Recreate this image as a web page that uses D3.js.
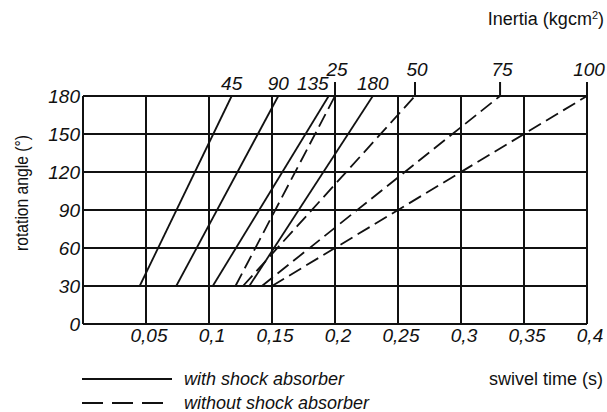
<!DOCTYPE html>
<html><head><meta charset="utf-8">
<script src="https://cdn.jsdelivr.net/npm/d3@7/dist/d3.min.js"></script>
<style>
body{margin:0;background:#fff;}
svg{display:block;}
text{fill:#111;}
.it{font-family:"Liberation Sans",Arial,sans-serif;font-style:italic;}
.rg{font-family:"Liberation Sans",Arial,sans-serif;}
</style></head>
<body>
<svg id="c" width="607" height="412"></svg>
<script>
// ---- data ----
const timeTicks = [0, 0.05, 0.1, 0.15, 0.2, 0.25, 0.3, 0.35, 0.4];
const timeTickLabels = ["", "0,05", "0,1", "0,15", "0,2", "0,25", "0,3", "0,35", "0,4"];
const angleTicks = [0, 30, 60, 90, 120, 150, 180];
const angleTickLabels = ["0", "30", "60", "90", "120", "150", "180"];
// with shock absorber (solid): inertia, swivel time at 30° and at 180°
const withInertia = [45, 90, 135, 180];
const withTime30 = [0.045, 0.074, 0.103, 0.132];
const withTime180 = [0.118, 0.155, 0.195, 0.23];
// without shock absorber (dashed)
const withoutInertia = [25, 50, 75, 100];
const withoutTime30 = [0.121, 0.127, 0.142, 0.15];
const withoutTime180 = [0.2, 0.2635, 0.331, 0.4];
const angleStart = 30, angleEnd = 180;

// ---- chart ----
const svg = d3.select("#c");
const x = d3.scaleLinear().domain([0, 0.4]).range([83, 587]);
const y = d3.scaleLinear().domain([0, 180]).range([324, 96]);
const ink = "#111";

// grid
const g = svg.append("g");
g.selectAll("line.v").data(timeTicks).join("line")
  .attr("class","v")
  .attr("x1", d => x(d)).attr("x2", d => x(d))
  .attr("y1", y(0)).attr("y2", y(180))
  .attr("stroke", ink).attr("stroke-width", 2);
g.selectAll("line.h").data(angleTicks).join("line")
  .attr("class","h")
  .attr("x1", x(0)).attr("x2", x(0.4))
  .attr("y1", d => y(d)).attr("y2", d => y(d))
  .attr("stroke", ink).attr("stroke-width", 2);

// y tick labels
svg.append("g").selectAll("text").data(angleTicks).join("text")
  .attr("class","it").attr("font-size", 19)
  .attr("x", 80).attr("y", d => y(d)).attr("dy", "0.36em")
  .attr("text-anchor", "end")
  .text((d,i) => angleTickLabels[i]);

// x tick labels
svg.append("g").selectAll("text").data(timeTicks).join("text")
  .attr("class","it").attr("font-size", 19)
  .attr("x", d => x(d) + 3).attr("y", 342)
  .attr("text-anchor", "middle")
  .text((d,i) => timeTickLabels[i]);

// solid lines
const lines = svg.append("g");
lines.selectAll("line.s").data(withInertia).join("line")
  .attr("class","s")
  .attr("x1", (d,i) => x(withTime30[i])).attr("y1", y(angleStart))
  .attr("x2", (d,i) => x(withTime180[i])).attr("y2", y(angleEnd))
  .attr("stroke", ink).attr("stroke-width", 1.8);
// dashed lines
lines.selectAll("line.d").data(withoutInertia).join("line")
  .attr("class","d")
  .attr("x1", (d,i) => x(withoutTime30[i])).attr("y1", y(angleStart))
  .attr("x2", (d,i) => x(withoutTime180[i])).attr("y2", y(angleEnd))
  .attr("stroke", ink).attr("stroke-width", 1.8)
  .attr("stroke-dasharray", "14,6");

// dashed inertia ticks + labels
svg.append("g").selectAll("line").data(withoutInertia).join("line")
  .attr("x1", (d,i) => x(withoutTime180[i])).attr("x2", (d,i) => x(withoutTime180[i]))
  .attr("y1", 82).attr("y2", y(180))
  .attr("stroke", ink).attr("stroke-width", 2);
svg.append("g").selectAll("text").data(withoutInertia).join("text")
  .attr("class","it").attr("font-size", 19)
  .attr("x", (d,i) => x(withoutTime180[i]) + 2).attr("y", 76)
  .attr("text-anchor", "middle").text(d => d);

// solid inertia labels
svg.append("g").selectAll("text").data(withInertia).join("text")
  .attr("class","it").attr("font-size", 19)
  .attr("x", (d,i) => x(withTime180[i]))
  .attr("y", 90)
  .attr("text-anchor", (d,i) => {
    const px = x(withTime180[i]);
    return withoutTime180.some(t => Math.abs(x(t) - px) < 12) ? "end" : "middle";
  })
  .text(d => d);

// axis titles
svg.append("text").attr("class","rg").attr("font-size", 18)
  .attr("x", 604).attr("y", 25).attr("text-anchor", "end")
  .html('Inertia (kgcm<tspan baseline-shift="super" font-size="11">2</tspan>)');
svg.append("text").attr("class","rg").attr("font-size", 18)
  .attr("transform", "translate(28,193) rotate(-90) scale(0.87,1)")
  .attr("text-anchor", "middle")
  .text("rotation angle  (°)");
svg.append("text").attr("class","rg").attr("font-size", 18)
  .attr("x", 603).attr("y", 385).attr("text-anchor", "end")
  .text("swivel time (s)");

// legend
const leg = svg.append("g");
leg.append("line").attr("x1", 82).attr("x2", 172).attr("y1", 379).attr("y2", 379)
  .attr("stroke", ink).attr("stroke-width", 1.8);
leg.append("line").attr("x1", 82).attr("x2", 172).attr("y1", 403).attr("y2", 403)
  .attr("stroke", ink).attr("stroke-width", 1.8).attr("stroke-dasharray", "21,9");
leg.append("text").attr("class","it").attr("font-size", 18)
  .attr("x", 184).attr("y", 385).text("with shock absorber");
leg.append("text").attr("class","it").attr("font-size", 18)
  .attr("x", 184).attr("y", 409).text("without shock absorber");
</script>
</body></html>
